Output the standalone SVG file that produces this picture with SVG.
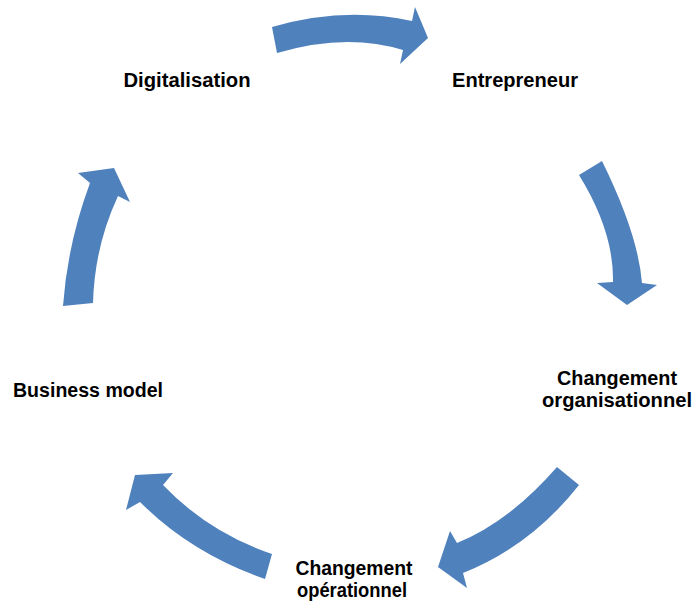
<svg xmlns="http://www.w3.org/2000/svg" width="695" height="608" viewBox="0 0 695 608">
<style>
.lbl{font-family:"Liberation Sans",Arial,sans-serif;font-weight:bold;font-size:20px;fill:#000;text-anchor:middle}
.arr{fill:#4f81bd;stroke:none}
</style>
<rect width="695" height="608" fill="#fff"/>
<g id="connectors">
<path class="arr" d="M272,27 Q344,6 412,21 L415,7 L428,38 L400,64 L403,50 Q346,32.5 277,53 Z"/>
<path class="arr" d="M602,161 Q638,234 642,283 L657,285 L627,305 L597,283 L613,282 Q614,231.5 579,175 Z"/>
<path class="arr" d="M579,485 Q531,546 463,573 L467,588 L438,567 L450,531 L457,543 Q509,522 557,467 Z"/>
<path class="arr" d="M265,579 Q191.5,553.5 140,502 L126,510 L135,475 L173,473 L163,485 Q208.5,532.5 272,554 Z"/>
<path class="arr" d="M63,306 Q67.5,243.5 90,183 L78,173 L114,168 L130,202 L118,196 Q94.5,246.5 93,303 Z"/>
</g>
<g id="digitalisation"><text class="lbl" x="187" y="87" textLength="127" lengthAdjust="spacingAndGlyphs">Digitalisation</text></g>
<g id="entrepreneur"><text class="lbl" x="515" y="87" textLength="126" lengthAdjust="spacingAndGlyphs">Entrepreneur</text></g>
<g id="changement-organisationnel">
<text class="lbl" x="617" y="385" textLength="120" lengthAdjust="spacingAndGlyphs">Changement</text>
<text class="lbl" x="617" y="407" textLength="150" lengthAdjust="spacingAndGlyphs">organisationnel</text>
</g>
<g id="changement-operationnel">
<text class="lbl" x="354" y="575" textLength="117" lengthAdjust="spacingAndGlyphs">Changement</text>
<text class="lbl" x="352" y="597" textLength="110" lengthAdjust="spacingAndGlyphs">opérationnel</text>
</g>
<g id="business-model"><text class="lbl" x="88" y="397" textLength="150" lengthAdjust="spacingAndGlyphs">Business model</text></g>
</svg>
